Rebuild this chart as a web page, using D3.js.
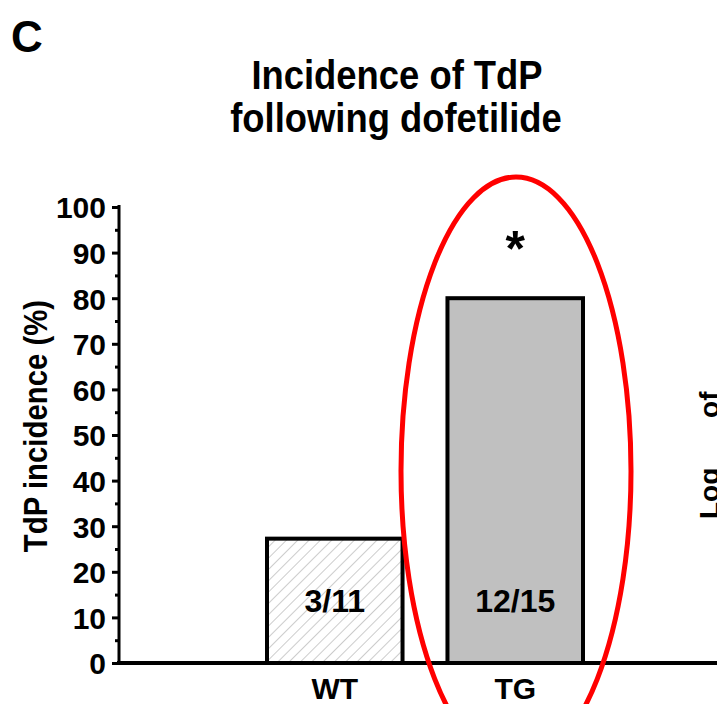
<!DOCTYPE html>
<html><head><meta charset="utf-8">
<script src="https://cdn.jsdelivr.net/npm/d3@7"></script>
<style>
body{margin:0;background:#fff;}
svg{display:block;font-family:"Liberation Sans",Arial,sans-serif;font-weight:bold;}
</style></head>
<body><svg id="c" width="717" height="704"></svg>
<script>
const categories = ["WT", "TG"];
const values = [27.27, 80];
const barLabels = ["3/11", "12/15"];
const yTicks = [0,10,20,30,40,50,60,70,80,90,100];
const minorTicks = [5,15,25,35,45,55,65,75,85,95];

const svg = d3.select("#c");
const y = d3.scaleLinear().domain([0,100]).range([663,207]);
const x = d3.scaleBand().domain(categories).range([267,583]).paddingInner(0.249).paddingOuter(0);

// defs: hatch pattern
const defs = svg.append("defs");
const pat = defs.append("pattern").attr("id","hatch").attr("patternUnits","userSpaceOnUse")
  .attr("width",8).attr("height",8).attr("patternTransform","rotate(45)");
pat.append("rect").attr("width",8).attr("height",8).attr("fill","#fff");
pat.append("line").attr("x1",0).attr("y1",0).attr("x2",0).attr("y2",8).attr("stroke","#9a9a9a").attr("stroke-width",1);

// Panel letter & title
svg.append("text").attr("x",11).attr("y",52).attr("font-size",44).text("C");
svg.append("g").attr("transform","translate(397,89) scale(0.91,1)")
  .append("text").attr("text-anchor","middle").attr("font-size",40).text("Incidence of TdP");
svg.append("g").attr("transform","translate(396,132) scale(0.91,1)")
  .append("text").attr("text-anchor","middle").attr("font-size",40).text("following dofetilide");

// bars
const fills = ["url(#hatch)", "#c0c0c0"];
svg.selectAll("rect.bar").data(values).enter().append("rect").attr("class","bar")
  .attr("x",(d,i)=>x(categories[i])).attr("width",x.bandwidth())
  .attr("y",d=>y(d)).attr("height",d=>y(0)-y(d))
  .attr("fill",(d,i)=>fills[i]).attr("stroke","#000").attr("stroke-width",4);

svg.selectAll("text.bl").data(barLabels).enter().append("text").attr("class","bl")
  .attr("x",(d,i)=>x(categories[i])+x.bandwidth()/2).attr("y",612)
  .attr("text-anchor","middle").attr("font-size",32).text(d=>d);

// y axis
const yAxis = d3.axisLeft(y).tickValues(yTicks).tickSize(7).tickPadding(6);
const ga = svg.append("g").attr("transform","translate(119,0)").call(yAxis);
ga.select(".domain").attr("stroke","#000").attr("stroke-width",3).attr("d","M0,205V663");
ga.selectAll(".tick line").attr("stroke","#000").attr("stroke-width",3);
ga.selectAll(".tick text").attr("font-size",30).attr("font-weight","bold").attr("fill","#000").attr("font-family","Liberation Sans, Arial, sans-serif").attr("dy","0.36em");
const yMinor = d3.axisLeft(y).tickValues(minorTicks).tickSize(4).tickFormat("");
const gm = svg.append("g").attr("transform","translate(119,0)").call(yMinor);
gm.select(".domain").remove();
gm.selectAll(".tick line").attr("stroke","#000").attr("stroke-width",3);

// baseline
svg.append("line").attr("x1",117).attr("x2",717).attr("y1",y(0)).attr("y2",y(0)).attr("stroke","#000").attr("stroke-width",4);

// x labels
svg.selectAll("text.xl").data(categories).enter().append("text").attr("class","xl")
  .attr("x",d=>x(d)+x.bandwidth()/2).attr("y",699).attr("text-anchor","middle").attr("font-size",30).text(d=>d);

// y label
svg.append("text").attr("transform","translate(47,426) rotate(-90) scale(0.89,1)").attr("text-anchor","middle").attr("font-size",33).text("TdP incidence (%)");

// asterisk
svg.append("text").attr("x",x("TG")+x.bandwidth()/2).attr("y",266).attr("text-anchor","middle").attr("font-size",50).text("*");

// red ellipse
svg.append("ellipse").attr("cx",516).attr("cy",471).attr("rx",115).attr("ry",294)
  .attr("fill","none").attr("stroke","#ff0000").attr("stroke-width",5);

// cut-off right text (continues beyond the right edge in the reference)
const lt = svg.append("text").attr("transform","translate(719,519) rotate(-90)").attr("font-size",28);
lt.append("tspan").text("Log");
lt.append("tspan").attr("font-size",18).attr("dy",12).text("10");
lt.append("tspan").attr("dy",-12).attr("dx",22).text(" of");
</script></body></html>
